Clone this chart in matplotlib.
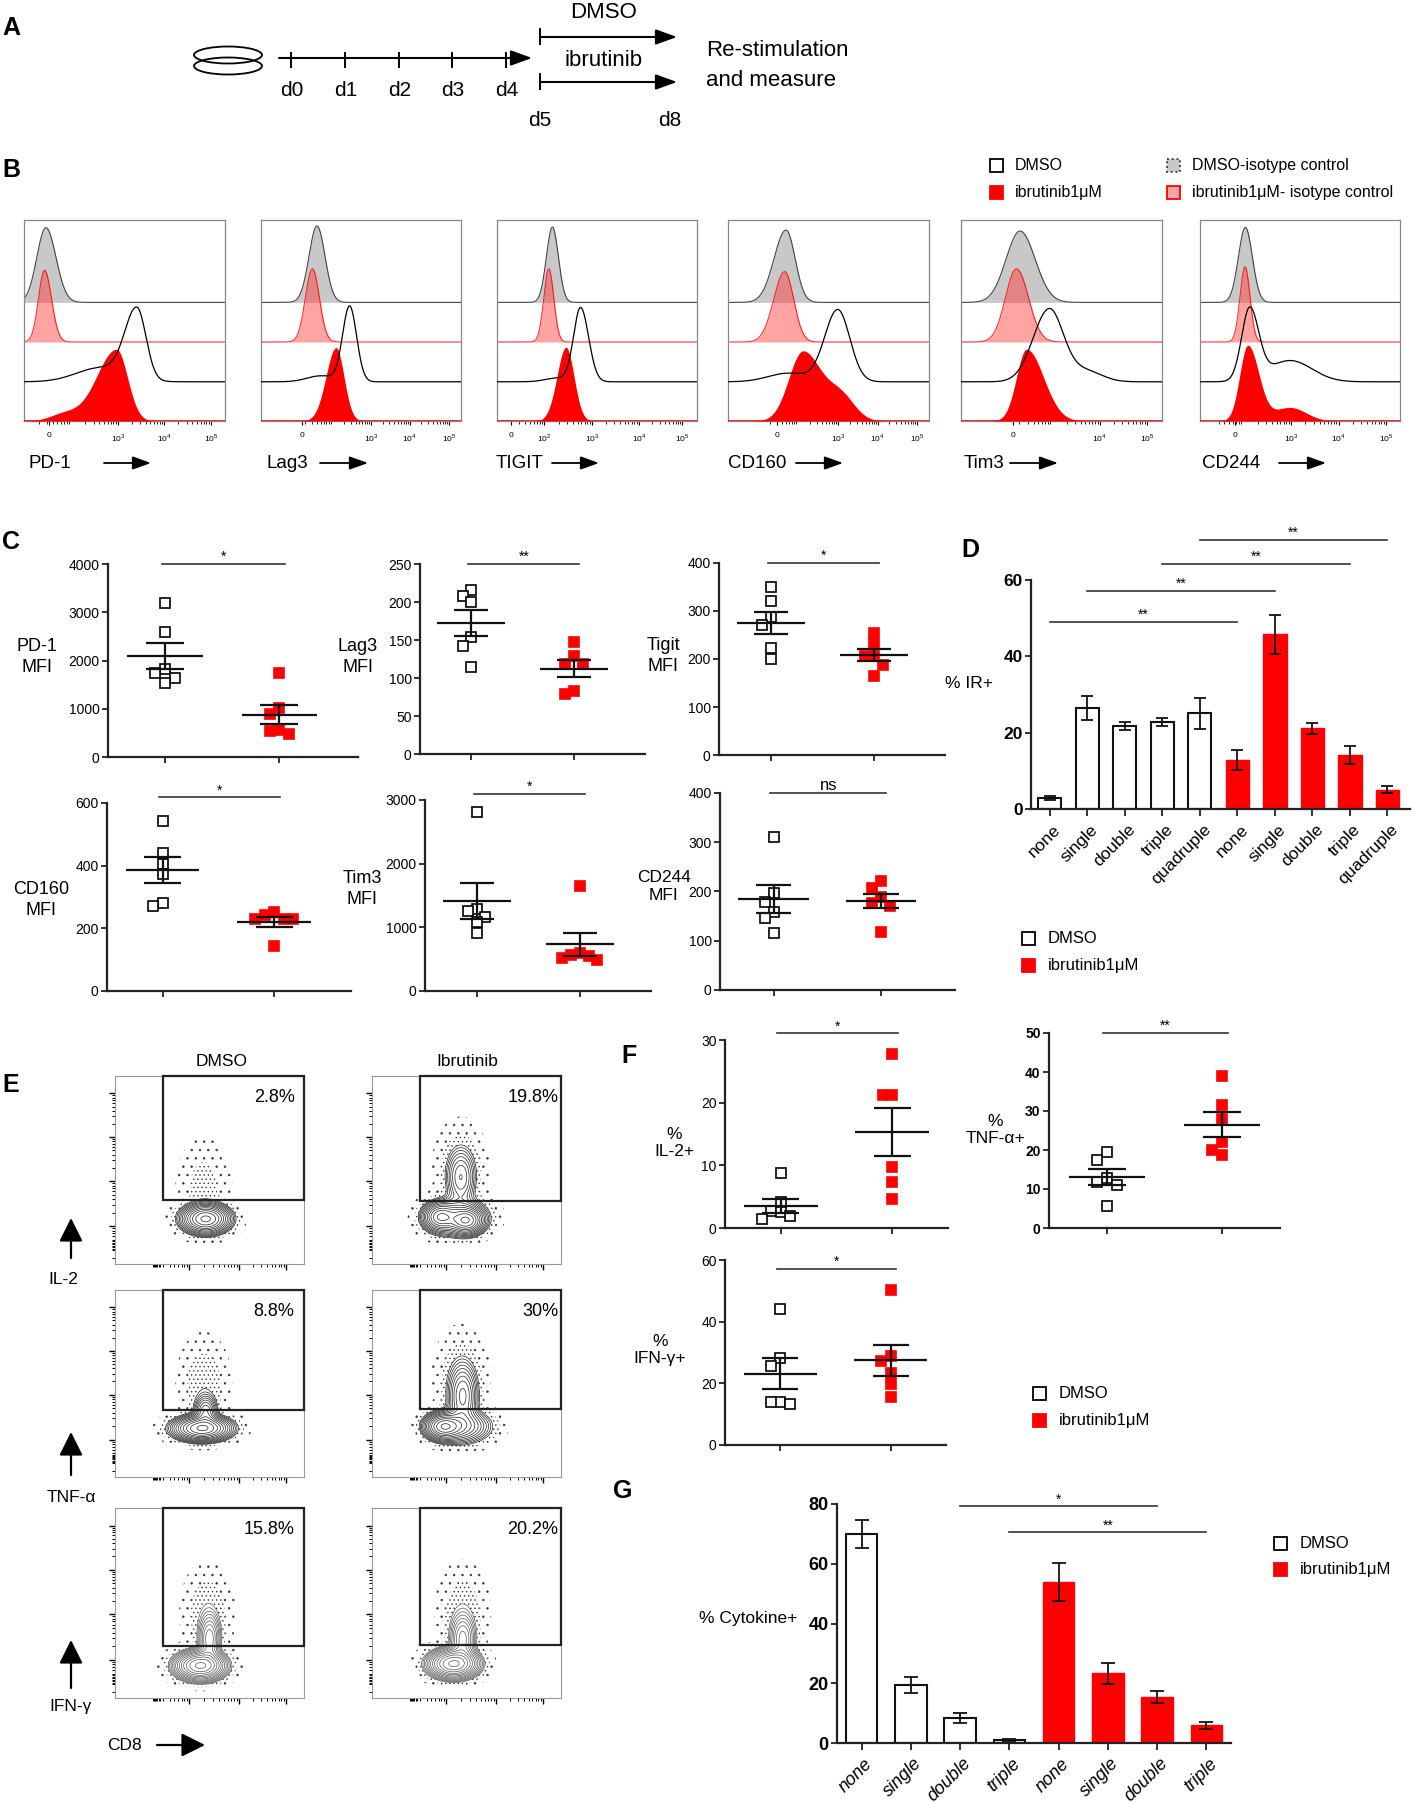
import numpy as np
import matplotlib
matplotlib.use('Agg')
import matplotlib.pyplot as plt
from matplotlib.patches import Rectangle, Ellipse
from matplotlib.transforms import ScaledTranslation

plt.rcParams['font.family'] = ['Liberation Sans', 'DejaVu Sans']
plt.rcParams['mathtext.fontset'] = 'custom'
plt.rcParams['mathtext.rm'] = 'Liberation Sans'
plt.rcParams['hatch.linewidth'] = 0.5
plt.rcParams['hatch.color'] = '#333'

# ---------------- data ----------------
days = ['d0', 'd1', 'd2', 'd3', 'd4']

markers = ['PD-1', 'Lag3', 'TIGIT', 'CD160', 'Tim3', 'CD244']
# histogram peaks (position on the axis, 0..1), left/right spread, height
iso_dmso_peak = [0.109, 0.280, 0.277, 0.289, 0.294, 0.227]
iso_dmso_sl = [0.045, 0.040, 0.030, 0.060, 0.070, 0.035]
iso_dmso_sr = [0.050, 0.040, 0.030, 0.045, 0.075, 0.035]
iso_dmso_h = [0.372, 0.380, 0.375, 0.360, 0.355, 0.373]
iso_ibr_peak = [0.102, 0.257, 0.259, 0.282, 0.276, 0.225]
iso_ibr_sl = [0.030, 0.035, 0.025, 0.055, 0.055, 0.025]
iso_ibr_sr = [0.035, 0.035, 0.025, 0.045, 0.060, 0.025]
iso_ibr_h = [0.357, 0.364, 0.364, 0.350, 0.364, 0.374]
dmso_peak = [0.562, 0.443, 0.418, 0.546, 0.439, 0.248]
dmso_sl = [0.060, 0.035, 0.035, 0.065, 0.080, 0.040]
dmso_sr = [0.045, 0.035, 0.040, 0.060, 0.070, 0.045]
dmso_h = [0.372, 0.378, 0.370, 0.360, 0.365, 0.373]
dmso_tail_c = [0.38, 0.30, 0.30, 0.30, 0.62, 0.45]
dmso_tail_s = [0.12, 0.07, 0.06, 0.10, 0.08, 0.11]
dmso_tail_h = [0.20, 0.08, 0.05, 0.12, 0.15, 0.30]
ibr_peak = [0.460, 0.375, 0.345, 0.372, 0.326, 0.239]
ibr_sl = [0.100, 0.050, 0.045, 0.070, 0.050, 0.040]
ibr_sr = [0.055, 0.040, 0.040, 0.090, 0.085, 0.055]
ibr_h = [0.357, 0.365, 0.367, 0.349, 0.357, 0.377]
ibr_tail_c = [0.20, 0.30, 0.30, 0.56, 0.50, 0.45]
ibr_tail_s = [0.07, 0.05, 0.05, 0.07, 0.06, 0.08]
ibr_tail_h = [0.10, 0.0, 0.0, 0.35, 0.0, 0.18]

mfi_names = ['PD-1\nMFI', 'Lag3\nMFI', 'Tigit\nMFI', 'CD160\nMFI', 'Tim3\nMFI', 'CD244\nMFI']
mfi_dmso = [[3183, 2588, 1834, 1751, 1647, 1536],
            [216, 208, 200, 154, 142, 114],
            [350, 320, 288, 270, 223, 200],
            [544, 440, 406, 372, 280, 272],
            [2806, 1285, 1259, 1164, 1086, 918],
            [311, 197, 178, 158, 147, 116]]
mfi_ibr = [[1744, 1024, 886, 567, 540, 471],
           [147, 129, 118, 118, 83, 79],
           [254, 234, 206, 206, 187, 164],
           [252, 241, 230, 230, 229, 143],
           [1657, 603, 572, 551, 524, 493],
           [222, 208, 188, 176, 170, 118]]
mfi_ymax = [4000, 250, 400, 600, 3000, 400]
mfi_ystep = [1000, 50, 100, 200, 1000, 100]
mfi_sig = ['*', '**', '*', '*', '*', 'ns']

ir_cats = ['none', 'single', 'double', 'triple', 'quadruple']
ir_dmso = [2.9, 26.4, 21.7, 22.8, 25.1]
ir_dmso_err = [0.5, 3.2, 1.1, 1.0, 4.1]
ir_ibr = [12.8, 45.8, 21.1, 14.2, 5.1]
ir_ibr_err = [2.6, 5.1, 1.5, 2.3, 0.9]

cyto_rows = ['IL-2', 'TNF-α', 'IFN-γ']
pct_dmso = ['2.8%', '8.8%', '15.8%']
pct_ibr = ['19.8%', '30%', '20.2%']
# contour populations: (x, y, spread x, spread y, weight) in plot fractions
il2_dmso_pop = [(0.48, 0.24, 0.062, 0.038, 1.0), (0.47, 0.42, 0.07, 0.12, 0.02)]
il2_ibr_pop = [(0.36, 0.25, 0.045, 0.038, 0.8), (0.50, 0.23, 0.045, 0.035, 1.0),
               (0.45, 0.25, 0.08, 0.05, 0.45), (0.47, 0.46, 0.04, 0.08, 0.3),
               (0.47, 0.52, 0.07, 0.12, 0.03)]
tnf_dmso_pop = [(0.46, 0.26, 0.075, 0.033, 1.0), (0.48, 0.35, 0.03, 0.045, 0.3),
                (0.47, 0.50, 0.065, 0.12, 0.03)]
tnf_ibr_pop = [(0.38, 0.27, 0.05, 0.035, 1.0), (0.48, 0.43, 0.04, 0.09, 0.4),
               (0.47, 0.27, 0.08, 0.045, 0.4), (0.47, 0.55, 0.07, 0.12, 0.03)]
ifn_dmso_pop = [(0.45, 0.17, 0.065, 0.038, 1.0), (0.50, 0.31, 0.03, 0.07, 0.28),
                (0.49, 0.45, 0.065, 0.12, 0.03)]
ifn_ibr_pop = [(0.43, 0.18, 0.065, 0.038, 1.0), (0.48, 0.31, 0.035, 0.07, 0.26),
               (0.48, 0.45, 0.065, 0.12, 0.03)]
gate_dmso = [0.339, 0.360, 0.275]
gate_ibr = [0.337, 0.366, 0.277]

f_names = ['%\nIL-2+', '%\nTNF-α+', '%\nIFN-γ+']
il2_dmso = [8.75, 4.1, 2.75, 2.5, 1.85, 1.43]
il2_ibr = [27.8, 21.2, 21.2, 9.8, 7.3, 4.7]
tnf_dmso = [19.4, 17.5, 12.8, 11.8, 10.9, 5.7]
tnf_ibr = [39.1, 31.5, 27.9, 22.0, 20.0, 18.6]
ifn_dmso = [44.0, 28.3, 25.6, 14.1, 13.8, 13.2]
ifn_ibr = [50.3, 28.9, 27.2, 23.2, 19.7, 15.5]
f_ymax = [30, 50, 60]
f_ystep = [10, 10, 20]
f_sig = ['*', '**', '*']

cyto_cats = ['none', 'single', 'double', 'triple']
cyto_dmso = [69.9, 19.4, 8.4, 0.9]
cyto_dmso_err = [4.6, 2.75, 1.8, 0.4]
cyto_ibr = [54.0, 23.3, 15.4, 6.0]
cyto_ibr_err = [6.4, 3.5, 2.1, 1.15]

RED = '#ff0000'
W, H = 1412, 1803
fig = plt.figure(figsize=(W / 100, H / 100), dpi=100)


def add_ax(x0, y0, x1, y1):
    return fig.add_axes([x0 / W, 1 - y1 / H, (x1 - x0) / W, (y1 - y0) / H])


ov = fig.add_axes([0, 0, 1, 1], zorder=10)
ov.set_xlim(0, W)
ov.set_ylim(H, 0)
ov.axis('off')
ov.patch.set_visible(False)


def arrow(x0, y0, x1, y1, lw=1.5, hw=0.26, hl=0.72, ms=18):
    ov.annotate('', xy=(x1, y1), xytext=(x0, y0),
                arrowprops=dict(arrowstyle=f'-|>,head_width={hw},head_length={hl}',
                                lw=lw, color='k', shrinkA=0, shrinkB=0, mutation_scale=ms))


def square(cx, cy, size, face, edge, ls='-'):
    ov.add_patch(Rectangle((cx - size / 2, cy - size / 2), size, size, facecolor=face,
                           edgecolor=edge, lw=1.3, linestyle=ls))


# panel letters
for letter, (lx, ly) in zip('ABCDEFG', [(2, 28), (2, 170), (2, 542), (961, 550),
                                          (2, 1085), (621, 1056), (613, 1491)]):
    ov.text(lx, ly, letter, fontsize=18, fontweight='bold', ha='left', va='center')

# ---------------- A: schedule ----------------
ov.add_patch(Ellipse((228, 55), 68, 17, fill=False, lw=1.3))
ov.add_patch(Ellipse((228, 66), 68, 17, fill=False, lw=1.3))
arrow(279, 58, 532, 58)
tick_x = np.linspace(291, 506, len(days))
ov.vlines(tick_x, 52, 68, color='k', lw=1.4)
for tx, d in zip(tick_x, days):
    ov.text(tx + 1, 91, d, fontsize=15, ha='center', va='center')
for ya, yt in [(37, (28, 45)), (82, (73, 90))]:
    ov.vlines(540, yt[0], yt[1], color='k', lw=1.4)
    arrow(540, ya, 677, ya)
ov.text(604, 12, 'DMSO', fontsize=16, ha='center', va='center')
ov.text(604, 61, 'ibrutinib', fontsize=16, ha='center', va='center')
ov.text(540, 120, 'd5', fontsize=15, ha='center', va='center')
ov.text(670, 120, 'd8', fontsize=15, ha='center', va='center')
ov.text(706, 50, 'Re-stimulation', fontsize=16, ha='left', va='center')
ov.text(706, 80, 'and measure', fontsize=16, ha='left', va='center')

# ---------------- B: histograms ----------------
square(996.5, 165.5, 13, 'white', 'k')
square(996.5, 192, 13, RED, RED)
square(1173.5, 165.5, 13, '#c8c8c8', '#333', ':')
square(1173.5, 192, 13, '#f8a5a5', RED)
ov.text(1015, 165.5, 'DMSO', fontsize=11.5, va='center')
ov.text(1015, 192, 'ibrutinib1μM', fontsize=11.5, va='center')
ov.text(1192, 165.5, 'DMSO-isotype control', fontsize=11.5, va='center')
ov.text(1192, 192, 'ibrutinib1μM- isotype control', fontsize=11.5, va='center')

hist_x = [(24, 225), (261, 461), (497, 697), (728, 929), (961, 1162), (1200, 1400)]
dec = ['$10^2$', '$10^3$', '$10^4$', '$10^5$']
hist_ticks = [([0.125, 0.467, 0.698, 0.93], ['0'] + dec[1:]),
              ([0.205, 0.55, 0.743, 0.939], ['0'] + dec[1:]),
              ([0.068, 0.236, 0.475, 0.709, 0.927], ['0'] + dec),
              ([0.244, 0.546, 0.745, 0.939], ['0'] + dec[1:]),
              ([0.258, 0.69, 0.925], ['0'] + dec[2:]),
              ([0.175, 0.455, 0.693, 0.93], ['0'] + dec[1:])]
label_x = [(29, 104, 151), (267, 320, 368), (496, 552, 599),
           (728, 796, 843), (964, 1010, 1058), (1202, 1279, 1326)]
lane_base = [0.59, 0.393, 0.195, 0.0]
xs = np.linspace(0, 1, 600)


def hist_curve(c, sl, sr, tc=0.0, ts=0.1, th=0.0):
    s = np.where(xs < c, sl, sr)
    y = np.exp(-0.5 * ((xs - c) / s) ** 2) + th * np.exp(-0.5 * ((xs - tc) / ts) ** 2)
    return y / y.max()


for i, name in enumerate(markers):
    ax = add_ax(hist_x[i][0], 220, hist_x[i][1], 421)
    g = lane_base[0] + iso_dmso_h[i] * hist_curve(iso_dmso_peak[i], iso_dmso_sl[i], iso_dmso_sr[i])
    ax.fill_between(xs, lane_base[0], g, color='#c8c8c8', lw=0, zorder=1)
    ax.plot(xs, g, color='#444', lw=0.8, zorder=1.5)
    p = lane_base[1] + iso_ibr_h[i] * hist_curve(iso_ibr_peak[i], iso_ibr_sl[i], iso_ibr_sr[i])
    ax.fill_between(xs, lane_base[1], p, color=(1, 0.2, 0.2), alpha=0.45, lw=0, zorder=2)
    ax.plot(xs, p, color=RED, lw=0.8, alpha=0.8, zorder=2.5)
    b = lane_base[2] + dmso_h[i] * hist_curve(dmso_peak[i], dmso_sl[i], dmso_sr[i],
                                              dmso_tail_c[i], dmso_tail_s[i], dmso_tail_h[i])
    ax.plot(xs, b, color='k', lw=0.9, zorder=5)
    r = ibr_h[i] * hist_curve(ibr_peak[i], ibr_sl[i], ibr_sr[i],
                              ibr_tail_c[i], ibr_tail_s[i], ibr_tail_h[i])
    ax.fill_between(xs, 0, r, color=RED, lw=0, zorder=4)
    ax.axhline(0.002, color=RED, lw=1.2, zorder=4)
    ax.set_xlim(0, 1)
    ax.set_ylim(0, 1)
    ax.set_yticks([])
    for sp in ax.spines.values():
        sp.set_color('#888')
        sp.set_linewidth(0.9)
    pos, labs = hist_ticks[i]
    ax.set_xticks(pos, labs, fontsize=6)
    # log minor ticks between decades
    dpos = list(pos[1:])
    step = dpos[1] - dpos[0]
    while dpos[0] - step > pos[0] - step:
        dpos.insert(0, dpos[0] - step)
    minors = []
    for a, c in zip(dpos[:-1], dpos[1:]):
        for m in range(2, 10):
            v = a + (c - a) * np.log10(m)
            if pos[0] - 0.1 < v < 0.99:
                minors.append(v)
    ax.set_xticks(minors, minor=True)
    ax.tick_params(axis='x', which='major', length=3, width=0.8, pad=5, direction='out')
    ax.tick_params(axis='x', which='minor', length=2, width=0.6, direction='out')
    t0, a0, a1 = label_x[i]
    ov.text(t0, 463, name, fontsize=13.5, ha='left', va='center')
    arrow(a0, 463, a1, 463, lw=1.3, hw=0.25, hl=0.7, ms=16)


# ---------------- scatter helpers ----------------
def swarm(vals, ymax, step=0.085, thr=0.05):
    placed, out = [], []
    for v in vals:
        f = v / ymax
        for k in [0, -1, 1, -2, 2, -3, 3]:
            dx = k * step
            if all(not (abs(f - pf) < thr and abs(dx - px) < step * 0.99) for pf, px in placed):
                break
        placed.append((f, dx))
        out.append(dx)
    return np.array(out)


def style_axes(ax, bold=False, size=10):
    for s in ['top', 'right']:
        ax.spines[s].set_visible(False)
    for s in ['left', 'bottom']:
        ax.spines[s].set_linewidth(1.6)
        ax.spines[s].set_color('#222')
    ax.tick_params(length=4, width=1.3, color='#222', labelsize=size, pad=2)
    if bold:
        for lab in ax.get_yticklabels():
            lab.set_fontweight('bold')


def sig(ax, x0, x1, y, text, fs=10):
    ax.plot([x0, x1], [y, y], color='#333', lw=1.2, clip_on=False)
    ax.text((x0 + x1) / 2, y, text, ha='center', va='bottom', fontsize=fs)


def dot_plot(ax, dm, ib, ymax, ystep, sig_text, sig_frac, xmax, bold=False):
    for gx, vals, face in [(1, dm, 'white'), (2, ib, RED)]:
        vals = np.array(vals, float)
        offs = swarm(vals, ymax)
        ax.plot(gx + offs, vals, 's', ms=6.5, mfc=face, mec='k' if face == 'white' else RED,
                mew=1.2, ls='none', zorder=3, clip_on=False)
        m = vals.mean()
        se = vals.std(ddof=1) / np.sqrt(len(vals))
        ax.hlines(m, gx - 0.33, gx + 0.33, color='#111', lw=1.6, zorder=4)
        ax.hlines([m - se, m + se], gx - 0.165, gx + 0.165, color='#111', lw=1.6, zorder=4)
        ax.vlines(gx, m - se, m + se, color='#111', lw=1.6, zorder=4)
    ax.set_xlim(0.5, xmax)
    ax.set_ylim(0, ymax)
    ax.set_yticks(np.arange(0, ymax + 1, ystep))
    ax.set_xticks([1, 2], ['', ''])
    style_axes(ax, bold)
    sig(ax, 0.97, 2.05, ymax * sig_frac, sig_text, fs=12 if sig_text == 'ns' else 10)


# ---------------- C: MFI dot plots ----------------
c_boxes = [(108, 564, 358, 757), (420, 564, 645, 754), (719, 563, 945, 755),
           (107, 803, 351, 991), (425, 800, 651, 991), (720, 793, 955, 990)]
c_sig_frac = [1.0, 1.0, 1.0, 1.03, 1.03, 1.0]
c_label_xy = [(37, 657), (358, 657), (663, 656), (41, 900), (362, 889), (664, 886)]
for i in range(6):
    ax = add_ax(*c_boxes[i])
    dot_plot(ax, mfi_dmso[i], mfi_ibr[i], mfi_ymax[i], mfi_ystep[i], mfi_sig[i],
             c_sig_frac[i], 2.69)
    ov.text(*c_label_xy[i], mfi_names[i], fontsize=13 if i != 5 else 12.5, ha='center',
            va='center', multialignment='center', linespacing=1.25)

# ---------------- D: IR bar chart ----------------
ax = add_ax(1031, 580, 1410, 809)
xd = np.arange(len(ir_cats) * 2)
ek = dict(lw=1.3, capthick=1.3, ecolor='#111')
ax.bar(xd[:5], ir_dmso, 0.62, yerr=ir_dmso_err, capsize=4, color='white', edgecolor='#111',
       lw=1.5, error_kw=ek)
ax.bar(xd[5:], ir_ibr, 0.62, yerr=ir_ibr_err, capsize=4, color=RED, edgecolor=RED,
       lw=1.0, error_kw=ek)
ax.set_xlim(-0.5, 9.6)
ax.set_ylim(0, 60)
ax.set_yticks([0, 20, 40, 60])
ax.set_xticks(xd, ir_cats * 2, rotation=45, ha='right', va='center', rotation_mode='anchor',
              fontsize=12)
style_axes(ax, bold=True, size=12.5)
ax.tick_params(axis='x', length=5, pad=8)
for lab in ax.get_xticklabels():
    lab.set_transform(lab.get_transform() + ScaledTranslation(6 / 72, 0, fig.dpi_scale_trans))
for x0, x1, y in [(0, 5, 49.0), (1, 6, 57.2), (3, 8, 64.3), (4, 9, 70.5)]:
    sig(ax, x0, x1, y, '**')
ov.text(993, 683, '% IR+', fontsize=12.5, ha='right', va='center')
square(1028, 938.5, 13, 'white', 'k')
square(1028, 965.5, 13, RED, RED)
ov.text(1048, 938.5, 'DMSO', fontsize=12, va='center')
ov.text(1048, 965.5, 'ibrutinib1μM', fontsize=12, va='center')

# ---------------- E: contour plots ----------------
e_cols = [(115, 304), (372, 561)]
e_rows = [(1076, 1264), (1290, 1477), (1508, 1698)]
pops = [(il2_dmso_pop, il2_ibr_pop), (tnf_dmso_pop, tnf_ibr_pop), (ifn_dmso_pop, ifn_ibr_pop)]
gx_grid, gy_grid = np.meshgrid(np.linspace(0, 1, 300), np.linspace(0, 1, 300))
ytk = [0.2, 0.44, 0.675, 0.907]
xtk = [0.393, 0.656, 0.904]


def log_minors(majors):
    out = []
    for a, c in zip(majors[:-1], majors[1:]):
        out += [a + (c - a) * np.log10(m) for m in range(2, 10)]
    return out


for r in range(3):
    for c in range(2):
        ax = add_ax(e_cols[c][0], e_rows[r][0], e_cols[c][1], e_rows[r][1])
        z = np.zeros_like(gx_grid)
        for cx, cy, sx, sy, w in pops[r][c]:
            z += w * np.exp(-0.5 * (((gx_grid - cx) / sx) ** 2 + ((gy_grid - cy) / sy) ** 2))
        zmax = z.max()
        col = '#555' if r == 2 else '#222'
        ax.contour(gx_grid, gy_grid, z, levels=zmax * np.geomspace(0.035, 0.92, 13),
                   colors=col, linewidths=0.5)
        # sparse events around the contours
        ax.contourf(gx_grid, gy_grid, z, levels=zmax * np.array([0.012, 0.035]),
                    colors='none', hatches=['....'])
        ax.contourf(gx_grid, gy_grid, z, levels=zmax * np.array([0.002, 0.012]),
                    colors='none', hatches=['..'])
        gb = (gate_dmso if c == 0 else gate_ibr)[r]
        ax.add_patch(Rectangle((0.252, gb), 1 - 0.252, 1 - gb, fill=False, lw=1.6,
                               edgecolor='#222', transform=ax.transAxes, clip_on=False, zorder=5))
        ax.text(0.95 if c == 0 else 0.985, 0.887, (pct_dmso if c == 0 else pct_ibr)[r],
                fontsize=13, ha='right', va='center', transform=ax.transAxes)
        ax.set_xlim(0, 1)
        ax.set_ylim(0, 1)
        ax.set_xticks(xtk, [''] * 3)
        ax.set_yticks(ytk, [''] * 4)
        ax.set_xticks(log_minors([0.131] + xtk) + list(np.linspace(0.2, 0.24, 6)), minor=True)
        ax.set_yticks(log_minors([-0.04] + ytk) + list(np.linspace(0.08, 0.12, 6)), minor=True)
        ax.tick_params(which='major', length=4, width=1.0, direction='out')
        ax.tick_params(which='minor', length=2.5, width=0.7, direction='out')
        for sp in ax.spines.values():
            sp.set_color('#999')
            sp.set_linewidth(0.8)
ov.text(222, 1061, 'DMSO', fontsize=12.5, ha='center', va='center')
ov.text(467, 1061, 'Ibrutinib', fontsize=12.5, ha='center', va='center')
for (y0, y1), (lx, ly), lab in zip([(1258, 1218), (1475, 1432), (1688, 1640)],
                                   [(63, 1279), (71, 1498), (71, 1707)], cyto_rows):
    arrow(71, y0, 71, y1, lw=1.6, hw=0.4, hl=0.8, ms=18)
    ov.text(lx, ly, lab, fontsize=12.5, ha='center', va='center')
ov.text(107, 1745, 'CD8', fontsize=12.5, ha='left', va='center')
arrow(157, 1745, 205, 1745, lw=1.6, hw=0.4, hl=0.8, ms=18)

# ---------------- F: cytokine dot plots ----------------
f_boxes = [(725, 1040, 948, 1228), (1049, 1033, 1280, 1228), (725, 1260, 946, 1445)]
f_dm = [il2_dmso, tnf_dmso, ifn_dmso]
f_ib = [il2_ibr, tnf_ibr, ifn_ibr]
f_sig_frac = [1.035, 1.0, 0.95]
f_label_xy = [(674, 1143), (995, 1130), (660, 1350)]
for i in range(3):
    ax = add_ax(*f_boxes[i])
    dot_plot(ax, f_dm[i], f_ib[i], f_ymax[i], f_ystep[i], f_sig[i], f_sig_frac[i], 2.5,
             bold=(i == 1))
    ov.text(*f_label_xy[i], f_names[i], fontsize=12.5, ha='center', va='center',
            multialignment='center', linespacing=1.2)
square(1039, 1393.5, 13, 'white', 'k')
square(1039, 1420.5, 13, RED, RED)
ov.text(1059, 1393.5, 'DMSO', fontsize=12, va='center')
ov.text(1059, 1420.5, 'ibrutinib1μM', fontsize=12, va='center')

# ---------------- G: cytokine bar chart ----------------
ax = add_ax(837, 1504, 1231, 1743)
xg = np.arange(len(cyto_cats) * 2)
ax.bar(xg[:4], cyto_dmso, 0.635, yerr=cyto_dmso_err, capsize=5, color='white',
       edgecolor='#111', lw=1.5, error_kw=ek)
ax.bar(xg[4:], cyto_ibr, 0.635, yerr=cyto_ibr_err, capsize=5, color=RED, edgecolor=RED,
       lw=1.0, error_kw=ek)
ax.set_xlim(-0.5, 7.5)
ax.set_ylim(0, 80)
ax.set_yticks([0, 20, 40, 60, 80])
ax.set_xticks(xg, cyto_cats * 2, rotation=45, ha='right', va='center', rotation_mode='anchor',
              fontsize=12, style='italic')
style_axes(ax, bold=True, size=13)
ax.tick_params(axis='x', length=5, pad=8)
for lab in ax.get_xticklabels():
    lab.set_transform(lab.get_transform() + ScaledTranslation(6 / 72, 0, fig.dpi_scale_trans))
sig(ax, 2, 6, 79.2, '*')
sig(ax, 3, 7, 70.5, '**')
ov.text(797, 1618, '% Cytokine+', fontsize=12.5, ha='right', va='center')
square(1280, 1543, 13, 'white', 'k')
square(1280, 1569.5, 13, RED, RED)
ov.text(1300, 1543, 'DMSO', fontsize=12, va='center')
ov.text(1300, 1569.5, 'ibrutinib1μM', fontsize=12, va='center')

fig.savefig('out.png', dpi=100)
